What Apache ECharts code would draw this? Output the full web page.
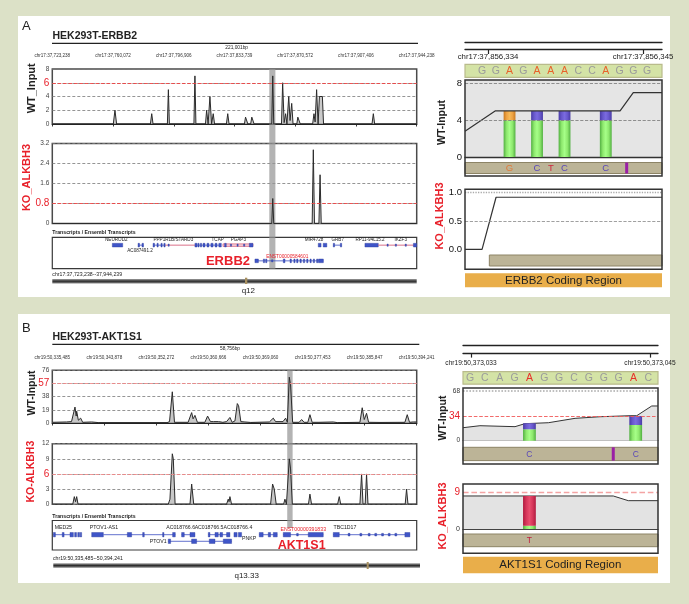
<!DOCTYPE html>
<html>
<head>
<meta charset="utf-8">
<title>HEK293T ERBB2 / AKT1S1</title>
<script src="https://cdn.jsdelivr.net/npm/echarts@6/dist/echarts.min.js"></script>
<style>
html,body{margin:0;padding:0;background:#dce1c7;width:689px;height:604px;overflow:hidden;}
#wrap{position:relative;width:689px;height:604px;}
.panel{position:absolute;background:#ffffff;}
#chart{position:absolute;left:0;top:0;width:689px;height:604px;}
</style>
</head>
<body>
<div id="wrap">
  <div class="panel" style="left:18px;top:16px;width:652px;height:281px;"></div>
  <div class="panel" style="left:18px;top:314px;width:652px;height:269px;"></div>
  <div id="chart"></div>
</div>
<script>
const FONT = '"Liberation Sans", Arial, Helvetica, sans-serif';
const RED = '#e8202a';

/* ================= Panel A : HEK293T-ERBB2 (x in kb from chr17:37,723,238) ================= */
const A_CHR = 'chr17';
const A_START = 37723238;
const A_SPAN_KB = 221.001;
const rulerA = [37723238, 37760072, 37796906, 37833739, 37870572, 37907406, 37944238];
const wtA_x = [0, 37.0, 38.0, 39.0, 59.5, 60.3, 61.1, 69.8, 70.4, 71.0, 85.9, 86.5, 87.1, 92.9, 93.6, 94.5, 95.6, 96.6, 97.6, 98.4, 105.6, 106.4, 107.2, 116.5, 117.2, 118.0, 118.6, 120.3, 121.0, 121.8, 122.4, 133.1, 133.7, 134.3, 139.0, 139.7, 140.6, 141.5, 142.3, 143.4, 144.2, 145.2, 146.0, 148.3, 148.9, 149.8, 150.4, 157.9, 158.7, 159.4, 160.3, 161.2, 162.0, 163.8, 164.5, 193.9, 194.7, 195.5, 221.001];
const wtA_y = [0, 0, 2, 0, 0, 1.5, 0, 0, 5, 0, 0, 7, 0, 0, 2, 0, 4, 0, 1.5, 0, 0, 1.5, 0, 0, 1, 1, 0, 0, 1, 1, 0, 0, 7, 0, 0, 6, 0.2, 1.5, 0, 4, 0.5, 3, 0, 0, 1, 1, 0, 0, 1.5, 0.3, 5, 0, 4, 4, 0, 0, 1.5, 0, 0];
const koA_x = [0, 133.1, 133.7, 134.3, 157.6, 158.3, 159.0, 161.7, 162.4, 163.1, 221.001];
const koA_y = [0, 0, 1.0, 0, 0, 2.95, 0, 0, 1.95, 0, 0];
const highlightA = [131.6, 135.3];
// transcripts: [start kb, end kb, row, kind]  kind 0 intron, 1 exon, 2 pink intron, 3 pink box, 4 small exon
const txA = [
  [36.4, 42.7, 0, 1],
  [52.0, 55.3, 0, 0], [52.0, 52.9, 0, 1], [54.4, 55.3, 0, 1],
  [61.1, 68.4, 0, 0], [68.4, 87.8, 0, 2],
  [61.1, 62.0, 0, 1], [63.5, 64.2, 0, 1], [65.9, 66.6, 0, 1], [67.7, 68.4, 0, 1], [70.2, 70.8, 0, 4], [86.5, 87.8, 0, 1],
  [87.8, 101.7, 0, 0], [88.3, 89.0, 0, 1], [89.8, 90.5, 0, 1], [91.4, 92.6, 0, 1], [93.8, 95.0, 0, 1], [96.2, 97.5, 0, 1], [98.7, 99.9, 0, 1], [101.0, 102.5, 0, 1],
  [103.5, 121.7, 0, 3], [104.5, 105.5, 0, 1], [108.0, 108.6, 0, 4], [112.0, 112.6, 0, 4], [116.0, 116.6, 0, 4], [119.5, 121.7, 0, 1],
  [161.3, 163.0, 0, 1], [164.3, 166.5, 0, 1],
  [170.4, 175.5, 0, 0], [170.4, 171.2, 0, 1], [174.7, 175.5, 0, 1],
  [189.6, 197.7, 0, 1],
  [197.7, 221.0, 0, 2], [203.0, 203.6, 0, 4], [208.0, 208.6, 0, 4], [214.0, 214.6, 0, 4], [219.0, 221.0, 0, 1],
  [122.9, 164.4, 1, 0], [122.9, 125.0, 1, 1], [128.0, 128.6, 1, 1], [129.4, 130.0, 1, 1], [133.0, 133.5, 1, 4], [140.1, 141.1, 1, 1],
  [144.2, 145.0, 1, 1], [146.5, 147.2, 1, 1], [148.2, 149.0, 1, 1], [150.2, 151.0, 1, 1], [152.3, 153.0, 1, 1], [154.3, 155.0, 1, 1],
  [156.3, 157.0, 1, 1], [158.3, 159.0, 1, 1], [160.3, 160.8, 1, 1], [161.4, 164.4, 1, 1]
];
// labels: [text, kb, row, style]
const txA_lab = [
  ['NEUROD2', 38.8, -0.32, 0], ['AC087491.2', 53.2, 0.38, 0], ['PPP1R1B/STARD3', 73.4, -0.32, 0],
  ['TCAP', 100.3, -0.32, 0], ['PGAP3', 112.8, -0.34, 0], ['MIR4728', 158.7, -0.32, 0], ['GRB7', 173.1, -0.32, 0],
  ['RP11-94L15.2', 192.7, -0.32, 0], ['IKZF3', 211.3, -0.32, 0],
  ['ENST00000584601', 142.5, 0.71, 1], ['ERBB2', 119.9, 1.03, 2]
];
// right panel A (x = letter index)
const seqA = ['G', 'G', 'A', 'G', 'A', 'A', 'A', 'C', 'C', 'A', 'G', 'G', 'G'];
const seqA_hl = [2, 4, 5, 6, 9];
const rulerRA = [37856334, 37856345];
const covA_x = [-1.24, 0.95, 10.04, 11.0, 13.09];
const covA_y = [2.8, 5, 5, 7, 7];
const barsA_x = [2, 4, 6, 9];
const barsA_mid = [4, 4, 4, 4];
const barsA_top = [5, 5, 5, 5];
const barsA_cap = ['orange', 'purple', 'purple', 'purple'];
const stripA_pos = [2, 4, 5, 6, 9];
const stripA_txt = ['G', 'C', 'T', 'C', 'C'];
const stripA_mark = [10.52];
const koRA_x = [-1.24, 0, 1.02, 13.09];
const koRA_y = [0, 0, 0.92, 0.92];
const koRA_span = [0.53, 13.09];

/* ================= Panel B : HEK293T-AKT1S1 (x in kb from chr19:50,335,485) ================= */
const B_CHR = 'chr19';
const B_START = 50335485;
const B_SPAN_KB = 58.756;
const rulerB = [50335485, 50343878, 50352272, 50360666, 50369060, 50377453, 50385847, 50394241];
const wtB_x = [0, 2.3, 3.1, 3.66, 3.85, 3.93, 4.2, 4.57, 4.9, 6.35, 7.5, 18.5, 18.9, 19.35, 19.7, 21.9, 22.47, 22.7, 23.0, 23.4, 24.6, 25.04, 25.5, 26.0, 26.8, 27.5, 28.1, 28.64, 29.0, 29.45, 29.83, 30.04, 30.4, 31.06, 32.0, 35.0, 35.63, 36.0, 37.2, 37.62, 37.9, 38.21, 38.42, 38.75, 39.8, 40.2, 40.6, 41.2, 41.54, 41.9, 43.0, 45.3, 46.0, 49.6, 49.97, 50.3, 50.67, 51.0, 53.0, 56.85, 57.23, 57.6, 58.19, 58.46, 58.756];
const wtB_y = [1, 1.5, 2, 23, 10, 17, 4, 7, 1, 1.5, 0.5, 0.5, 2, 45, 1, 1, 15, 6, 11, 1, 1, 10, 2, 2, 2, 1, 2, 8, 1, 3, 28, 25, 2, 1.5, 0.8, 1.5, 7, 2, 2, 7, 1, 66, 55, 1, 1, 5, 1, 1, 12, 1, 1, 1.5, 0.5, 1, 22, 5, 14, 1, 0.8, 1, 12, 1, 1.5, 3, 1.5];
const koB_x = [0, 3.3, 3.55, 3.75, 3.93, 4.15, 18.7, 18.97, 19.2, 19.35, 19.51, 19.8, 22.2, 22.47, 22.8, 28.1, 28.37, 28.5, 28.64, 28.9, 35.2, 35.52, 35.79, 36.1, 37.3, 37.51, 37.75, 37.95, 38.21, 38.42, 38.7, 41.3, 41.54, 41.8, 46.0, 46.27, 46.5, 49.6, 49.87, 50.1, 50.45, 50.67, 50.9, 56.9, 57.12, 57.35, 58.756];
const koB_y = [0, 0, 1.5, 0.5, 1.5, 0, 0, 1, 1, 10, 9, 0, 0, 4, 0, 0, 1, 0.5, 1.5, 0, 0, 4, 3, 0, 0, 1, 0, 0, 9, 7, 0, 0, 2, 0, 0, 1.5, 0, 0, 6, 0, 0, 6, 0, 0, 3, 0, 0];
const highlightB = [37.88, 38.75];
const txB = [
  [0.17, 2.85, 0, 0], [0.17, 0.5, 0, 1], [1.6, 1.9, 0, 1], [2.85, 3.4, 0, 1], [3.6, 3.9, 0, 1], [4.1, 4.4, 0, 1], [4.5, 4.73, 0, 1],
  [6.35, 8.23, 0, 1], [8.23, 19.83, 0, 0], [12.1, 12.79, 0, 1], [14.57, 14.83, 0, 1], [17.79, 18.0, 0, 1], [19.4, 19.83, 0, 1],
  [20.85, 23.0, 0, 0], [20.85, 21.28, 0, 1], [22.2, 23.0, 0, 1],
  [25.15, 28.64, 0, 0], [25.15, 25.42, 0, 1], [26.23, 26.76, 0, 1], [27.03, 27.46, 0, 1], [28.1, 28.64, 0, 1],
  [29.29, 29.8, 0, 1], [30.0, 30.52, 0, 1],
  [33.37, 36.27, 0, 0], [33.37, 34.0, 0, 1], [34.82, 35.2, 0, 1], [35.63, 36.27, 0, 1],
  [37.24, 43.69, 0, 0], [37.24, 38.42, 0, 1], [39.4, 39.66, 0, 4], [41.27, 43.69, 0, 1],
  [45.3, 57.66, 0, 0], [45.3, 46.27, 0, 1], [47.7, 48.0, 0, 4], [49.6, 49.9, 0, 4], [50.94, 51.24, 0, 4], [52.0, 52.3, 0, 4],
  [53.1, 53.4, 0, 4], [54.17, 54.47, 0, 4], [55.24, 55.54, 0, 4], [56.85, 57.66, 0, 1],
  [18.7, 28.91, 1, 0], [18.7, 19.08, 1, 1], [22.46, 23.27, 1, 1], [25.31, 26.23, 1, 1], [27.57, 28.91, 1, 1]
];
const txB_lab = [
  ['MED25', 1.78, -1.02, 6], ['PTOV1-AS1', 8.33, -1.02, 6], ['AC018766.6', 20.69, -1.02, 6],
  ['AC018766.5AC018766.4', 27.6, -1.02, 6], ['PNKP', 30.6, 0.6, 3], ['ENST00000391833', 40.46, -0.82, 7],
  ['TBC1D17', 47.18, -1.02, 6], ['PTOV1', 18.43, 1.1, 4], ['AKT1S1', 40.2, 1.71, 5]
];
const seqB = ['G', 'C', 'A', 'G', 'A', 'G', 'G', 'C', 'G', 'G', 'G', 'A', 'C'];
const seqB_hl = [4, 11];
const rulerRB = [50373033, 50373045];
const covB_x = [-0.47, 0.67, 3.03, 3.70, 5.27, 7.07, 8.75, 10.77, 11.22, 12.23, 12.65];
const covB_y = [17.8, 20.5, 19.2, 23.3, 24.6, 30.6, 32.8, 34.2, 34.2, 47.5, 47.5];
const barsB_x = [4, 11.15];
const barsB_mid = [15.6, 21.5];
const barsB_top = [23.8, 33.8];
const barsB_cap = ['purple', 'purple'];
const stripB_pos = [4, 11.15];
const stripB_txt = ['C', 'C'];
const stripB_mark = [9.64];
const koRB_x = [-0.47, 9.64, 10.65, 12.65];
const koRB_y = [8.1, 8.1, 6.95, 6.95];
const koRB_barx = [4];
const koRB_mid = [0.8];
const koRB_top = [8.1];
const koRB_cap = ['red'];
const koStripB_pos = [4];
const koStripB_txt = ['T'];

/* ================= building ================= */
const RA_IDX = [-1.24, 13.09];
const RB_IDX = [-0.47, 12.65];
const chart = echarts.init(document.getElementById('chart'));
const grids = [], xAxes = [], yAxes = [], series = [];
const addGrid = g => (grids.push(g), grids.length - 1);
const addX = a => (xAxes.push(a), xAxes.length - 1);
const addY = a => (yAxes.push(a), yAxes.length - 1);
const zip = (xs, ys) => xs.map((x, i) => [x, ys[i]]);
const FRAME = {show: true, borderColor: '#4a4a4a', borderWidth: 1.5, backgroundColor: 'transparent'};
const hidX = (gi, min, max) => addX({type: 'value', gridIndex: gi, show: false, min, max});
const hidY = (gi, min, max, inverse) => addY({type: 'value', gridIndex: gi, show: false, min, max, inverse: !!inverse});
const fmt = v => String(Math.round(v * 100) / 100);
const lg = cs => ({type: 'linear', x: 0, y: 0, x2: 1, y2: 0, colorStops: cs.map((c, i) => ({offset: i / (cs.length - 1), color: c}))});
const FILL = {
  green: lg(['#52b042', '#8ee86e', '#a6ff88', '#8ee86e', '#52b042']),
  orange: lg(['#c97a20', '#eda243', '#f6b957', '#eda243', '#c97a20']),
  purple: lg(['#4a3ca6', '#6858cc', '#7b6be0', '#6858cc', '#4a3ca6']),
  red: lg(['#b01c40', '#d6365a', '#e84e6e', '#d6365a', '#b01c40'])
};

function leftRuler(gi, chr, start, ticks, spanKb, offset) {
  const vals = ticks.map(t => (t - start) / 1000);
  return addX({type: 'value', gridIndex: gi, position: 'top', offset, min: 0, max: spanKb,
    axisLine: {show: true, lineStyle: {color: '#222', width: 1.2}},
    axisTick: {show: true, inside: true, length: 2.5, customValues: vals, lineStyle: {color: '#222', width: 0.9}},
    axisLabel: {show: true, inside: true, margin: 2.5, customValues: vals, fontSize: 4.6, color: '#333', fontFamily: FONT,
      formatter: v => chr + ':' + Math.round(start + v * 1000).toLocaleString('en-US')},
    splitLine: {show: false}});
}
function leftY(gi, max, interval, redVal) {
  return addY({type: 'value', gridIndex: gi, min: 0, max, interval,
    axisLine: {show: false}, axisTick: {show: false},
    splitLine: {show: true, lineStyle: {color: '#7a7a7a', type: [3, 2], width: 0.8}},
    axisLabel: {margin: 3, fontSize: 6.5, color: '#444', fontFamily: FONT,
      formatter: v => Math.abs(v - redVal) < 1e-6 ? '{r|' + fmt(v) + '}' : fmt(v),
      rich: {r: {color: RED, fontSize: 10, fontFamily: FONT}}}});
}
function rightY(gi, max, opts) {
  return addY(Object.assign({type: 'value', gridIndex: gi, min: 0, max,
    axisLine: {show: false}, axisTick: {show: false}, splitLine: {show: false}}, opts));
}
function rightRuler(gi, chr, ticks, min, max, fontSize, margin, offset2) {
  addX({type: 'value', gridIndex: gi, position: 'top', min, max,
    axisLine: {show: true, lineStyle: {color: '#222', width: 1.3}},
    axisTick: {show: true, inside: true, length: 4.3, customValues: ticks, lineStyle: {color: '#222', width: 1.2}},
    axisLabel: {show: true, inside: true, margin, customValues: ticks, fontSize, color: '#222', fontFamily: FONT,
      formatter: v => chr + ':' + Math.round(v).toLocaleString('en-US')},
    splitLine: {show: false}});
  addX({type: 'value', gridIndex: gi, position: 'top', offset: offset2, min, max,
    axisLine: {show: true, lineStyle: {color: '#222', width: 1.3}}, axisTick: {show: false}, axisLabel: {show: false}, splitLine: {show: false}});
  hidY(gi, 0, 1);
}
function lineSeries(xi, yi, xs, ys, extra) {
  series.push(Object.assign({type: 'line', xAxisIndex: xi, yAxisIndex: yi, silent: true, z: 4, data: zip(xs, ys),
    symbol: 'none', showSymbol: false, lineStyle: {color: '#2b2b2b', width: 1}}, extra || {}));
}
function refLines(xi, yi, x0, items) {
  series.push({type: 'line', xAxisIndex: xi, yAxisIndex: yi, silent: true, z: 1, data: [[x0, 0]], symbol: 'none',
    lineStyle: {width: 0, opacity: 0},
    markLine: {silent: true, symbol: 'none', label: {show: false},
      data: items.map(it => ({yAxis: it[0], lineStyle: {color: it[1], type: it[2], width: it[3]}}))}});
}
function textSeries(xi, yi, pts, texts, styleOf) {
  series.push({type: 'custom', xAxisIndex: xi, yAxisIndex: yi, silent: true, z: 5, data: pts,
    renderItem: (params, api) => {
      const p = api.coord([api.value(0), api.value(1)]);
      return {type: 'text', x: p[0], y: p[1], style: Object.assign({text: texts[params.dataIndex], fontFamily: FONT,
        align: 'center', verticalAlign: 'middle'}, styleOf(params.dataIndex))};
    }});
}
function barSeries(xi, yi, xs, mids, tops, caps) {
  const segs = [];
  xs.forEach((x, i) => { segs.push([x, 0, mids[i], 'green']); segs.push([x, mids[i], tops[i], caps[i]]); });
  series.push({type: 'custom', xAxisIndex: xi, yAxisIndex: yi, silent: true, z: 3,
    data: segs.map(s => [s[0], s[1], s[2]]),
    renderItem: (params, api) => {
      const s = segs[params.dataIndex];
      const p0 = api.coord([s[0], s[1]]), p1 = api.coord([s[0], s[2]]);
      const w = api.size([0.86, 0])[0];
      return {type: 'rect', shape: {x: p0[0] - w / 2, y: p1[1], width: w, height: p0[1] - p1[1]}, style: {fill: FILL[s[3]]}};
    }});
}
function markSeries(xi, yi, xs) {
  series.push({type: 'custom', xAxisIndex: xi, yAxisIndex: yi, silent: true, z: 5, data: xs.map(x => [x]),
    renderItem: (params, api) => {
      const t = api.coord([api.value(0), 1]), b = api.coord([api.value(0), 0]);
      return {type: 'rect', shape: {x: t[0] - 1.5, y: t[1], width: 3, height: b[1] - t[1]}, style: {fill: '#9a1fa6'}};
    }});
}
function spanSeries(xi, yi, spans) {
  series.push({type: 'custom', xAxisIndex: xi, yAxisIndex: yi, silent: true, z: 3, data: spans.map(s => [s[0], s[1]]),
    renderItem: (params, api) => {
      const a = api.coord([api.value(0), 1]), b = api.coord([api.value(1), 0]);
      return {type: 'rect', shape: {x: a[0], y: a[1], width: b[0] - a[0], height: b[1] - a[1]}, style: {fill: '#bcb497', stroke: '#8d8466', lineWidth: 1}};
    }});
}
function txSeries(xi, yi, segs, exonH) {
  series.push({type: 'custom', xAxisIndex: xi, yAxisIndex: yi, silent: true, z: 3, data: segs.map(s => [s[0], s[1], s[2]]),
    renderItem: (params, api) => {
      const s = segs[params.dataIndex];
      const p0 = api.coord([s[0], s[2]]), p1 = api.coord([s[1], s[2]]);
      const k = s[3];
      if (k === 0 || k === 2) {
        return {type: 'line', shape: {x1: p0[0], y1: p0[1], x2: p1[0], y2: p1[1]}, style: {stroke: k === 0 ? '#3a4cc0' : '#d04a6a', lineWidth: 0.8}};
      }
      if (k === 3) {
        return {type: 'rect', shape: {x: p0[0], y: p0[1] - exonH * 0.35, width: p1[0] - p0[0], height: exonH * 0.7}, style: {fill: '#f3c9d4', stroke: '#d04a6a', lineWidth: 0.6}};
      }
      const h = k === 4 ? exonH * 0.6 : exonH;
      return {type: 'rect', shape: {x: p0[0], y: p0[1] - h / 2, width: Math.max(p1[0] - p0[0], 1.2), height: h}, style: {fill: '#3f55c8', stroke: '#2a3a9a', lineWidth: 0.4}};
    }});
}
const LAB_STYLE = [
  {fontSize: 4.6, fill: '#222'},
  {fontSize: 4.8, fill: RED},
  {fontSize: 13, fill: RED, fontWeight: 'bold', align: 'right'},
  {fontSize: 5.2, fill: '#222', align: 'left'},
  {fontSize: 5.2, fill: '#222', align: 'right'},
  {fontSize: 12.5, fill: RED, fontWeight: 'bold'},
  {fontSize: 5.2, fill: '#222'},
  {fontSize: 5.2, fill: RED}
];
function txLabels(xi, yi, labs) {
  textSeries(xi, yi, labs.map(l => [l[1], l[2]]), labs.map(l => l[0]), i => LAB_STYLE[labs[i][3]]);
}

/* ---- Panel A left ---- */
const gA_wt = addGrid(Object.assign({left: 52.3, top: 69, width: 364.4, height: 55}, FRAME));
const xA_wt = leftRuler(gA_wt, A_CHR, A_START, rulerA, A_SPAN_KB, 18.3);
const yA_wt = leftY(gA_wt, 8, 2, 6);
refLines(xA_wt, yA_wt, 0, [[6, '#ee4444', 'dashed', 0.9]]);
lineSeries(xA_wt, yA_wt, wtA_x, wtA_y, {areaStyle: {color: '#b3b3b3'}});

const gA_ko = addGrid(Object.assign({left: 52.3, top: 143.5, width: 364.4, height: 80}, FRAME));
const xA_ko = hidX(gA_ko, 0, A_SPAN_KB);
const yA_ko = leftY(gA_ko, 3.2, 0.8, 0.8);
refLines(xA_ko, yA_ko, 0, [[0.8, '#ee4444', 'dashed', 0.9]]);
lineSeries(xA_ko, yA_ko, koA_x, koA_y, {areaStyle: {color: '#b3b3b3'}});

const gA_tx = addGrid({left: 52.3, top: 237.3, width: 364.4, height: 31.4, show: true, borderColor: '#3a3a3a', borderWidth: 1.2, backgroundColor: 'transparent'});
const xA_tx = hidX(gA_tx, 0, A_SPAN_KB);
const yA_tx = hidY(gA_tx, -0.5, 1.5, true);
txSeries(xA_tx, yA_tx, txA, 3.7);
txLabels(xA_tx, yA_tx, txA_lab);

/* ---- Panel A right ---- */
const gA_rr = addGrid({left: 465, top: 45.7, width: 197, height: 4});
rightRuler(gA_rr, A_CHR, rulerRA, 37856332.368, 37856346.348, 7.8, 7.1, 3.4);

const gA_seq = addGrid({left: 465, top: 64.3, width: 197, height: 13, show: true, backgroundColor: '#d4e3a6', borderColor: '#b9bb8c', borderWidth: 1.2});
const xA_seq = hidX(gA_seq, RA_IDX[0], RA_IDX[1]);
const yA_seq = hidY(gA_seq, 0, 1);
textSeries(xA_seq, yA_seq, seqA.map((c, i) => [i, 0.45]), seqA, i => ({fontSize: 10.5, fill: seqA_hl.includes(i) ? '#e8622a' : '#9b9b9b'}));

const gA_cov = addGrid({left: 465, top: 80, width: 197, height: 77, show: true, backgroundColor: '#e5e5e5', borderWidth: 0});
const xA_cov = addX({type: 'value', gridIndex: gA_cov, min: RA_IDX[0], max: RA_IDX[1], axisLine: {show: true, lineStyle: {color: '#333', width: 1.3}}, axisTick: {show: false}, axisLabel: {show: false}, splitLine: {show: false}});
const yA_cov = rightY(gA_cov, 8.36, {axisLabel: {customValues: [0, 4, 8], fontSize: 9.5, color: '#111', margin: 3, fontFamily: FONT}});
refLines(xA_cov, yA_cov, RA_IDX[0], [[4, '#777', 'dashed', 0.8], [8, '#777', 'dashed', 0.8]]);
barSeries(xA_cov, yA_cov, barsA_x, barsA_mid, barsA_top, barsA_cap);
lineSeries(xA_cov, yA_cov, covA_x, covA_y, {lineStyle: {color: '#333', width: 1.2}});

const gA_strip = addGrid({left: 465, top: 162.5, width: 197, height: 11, show: true, backgroundColor: '#bcb497', borderColor: '#8d8466', borderWidth: 1});
const xA_strip = hidX(gA_strip, RA_IDX[0], RA_IDX[1]);
const yA_strip = hidY(gA_strip, 0, 1);
const STRIP_COL = {G: '#e07a3a', C: '#5a48b8', T: '#d02840', A: '#2a9a2a'};
textSeries(xA_strip, yA_strip, stripA_pos.map(p => [p, 0.45]), stripA_txt, i => ({fontSize: 9.5, fill: STRIP_COL[stripA_txt[i]]}));
markSeries(xA_strip, yA_strip, stripA_mark);

const gA_rko = addGrid({left: 465, top: 192.7, width: 197, height: 56.6});
const xA_rko = hidX(gA_rko, RA_IDX[0], RA_IDX[1]);
const yA_rko = rightY(gA_rko, 1, {interval: 0.5, axisLabel: {formatter: v => v.toFixed(1), fontSize: 9.5, color: '#111', margin: 3, fontFamily: FONT}});
refLines(xA_rko, yA_rko, RA_IDX[0], [[0.5, '#888', 'dashed', 0.8], [1, '#aaa', 'dotted', 1.3]]);
lineSeries(xA_rko, yA_rko, koRA_x, koRA_y, {lineStyle: {color: '#333', width: 1.2}});

const gA_rks = addGrid({left: 465, top: 255, width: 197, height: 11});
const xA_rks = hidX(gA_rks, RA_IDX[0], RA_IDX[1]);
const yA_rks = hidY(gA_rks, 0, 1);
spanSeries(xA_rks, yA_rks, [koRA_span]);

/* ---- Panel B left ---- */
const gB_wt = addGrid(Object.assign({left: 52.3, top: 370.3, width: 364.4, height: 52.7}, FRAME));
const xB_wt = leftRuler(gB_wt, B_CHR, B_START, rulerB, B_SPAN_KB, 17.6);
const yB_wt = leftY(gB_wt, 76, 19, 57);
refLines(xB_wt, yB_wt, 0, [[57, '#f08a8a', 'dashed', 0.9]]);
lineSeries(xB_wt, yB_wt, wtB_x, wtB_y, {areaStyle: {color: '#b0b0b0'}});

const gB_ko = addGrid(Object.assign({left: 52.3, top: 443.7, width: 364.4, height: 60.5}, FRAME));
const xB_ko = hidX(gB_ko, 0, B_SPAN_KB);
const yB_ko = leftY(gB_ko, 12, 3, 6);
refLines(xB_ko, yB_ko, 0, [[6, '#f08a8a', 'dashed', 0.9]]);
lineSeries(xB_ko, yB_ko, koB_x, koB_y, {areaStyle: {color: '#b0b0b0'}});

const gB_tx = addGrid({left: 52.3, top: 520.5, width: 364.4, height: 29.5, show: true, borderColor: '#3a3a3a', borderWidth: 1.2, backgroundColor: 'transparent'});
const xB_tx = hidX(gB_tx, 0, B_SPAN_KB);
const yB_tx = hidY(gB_tx, -2.15, 2.32, true);
txSeries(xB_tx, yB_tx, txB, 4.4);
txLabels(xB_tx, yB_tx, txB_lab);

/* ---- Panel B right ---- */
const gB_rr = addGrid({left: 463, top: 349.3, width: 195, height: 4});
rightRuler(gB_rr, B_CHR, rulerRB, 50373032.464, 50373045.536, 6.6, 10.1, 4.3);

const gB_seq = addGrid({left: 463, top: 371.7, width: 195, height: 12.5, show: true, backgroundColor: '#d4e3a6', borderColor: '#b9bb8c', borderWidth: 1.2});
const xB_seq = hidX(gB_seq, RB_IDX[0], RB_IDX[1]);
const yB_seq = hidY(gB_seq, 0, 1);
textSeries(xB_seq, yB_seq, seqB.map((c, i) => [i, 0.45]), seqB, i => ({fontSize: 10.5, fill: seqB_hl.includes(i) ? '#e8302a' : '#9b9b9b'}));

const gB_cov = addGrid({left: 463, top: 391, width: 195, height: 49.7});
const xB_cov = addX({type: 'value', gridIndex: gB_cov, min: RB_IDX[0], max: RB_IDX[1], axisLine: {show: true, lineStyle: {color: '#555', width: 1}}, axisTick: {show: false}, axisLabel: {show: false}, splitLine: {show: false}});
const yB_cov = rightY(gB_cov, 68, {interval: 34, axisLabel: {fontSize: 6.5, color: '#333', margin: 3, fontFamily: FONT,
  formatter: v => v === 34 ? '{r|34}' : String(v), rich: {r: {color: RED, fontSize: 10, fontFamily: FONT}}}});
lineSeries(xB_cov, yB_cov, covB_x, covB_y, {z: 2, lineStyle: {color: '#333', width: 1}, areaStyle: {color: '#e3e3e3', opacity: 1}});
refLines(xB_cov, yB_cov, RB_IDX[0], [[34, '#f05a5a', 'dashed', 0.9], [68, '#aaaaaa', 'dotted', 1.6]]);
barSeries(xB_cov, yB_cov, barsB_x, barsB_mid, barsB_top, barsB_cap);

const gB_strip = addGrid({left: 463, top: 447.3, width: 195, height: 13.3, show: true, backgroundColor: '#bcb497', borderColor: '#8d8466', borderWidth: 1});
const xB_strip = hidX(gB_strip, RB_IDX[0], RB_IDX[1]);
const yB_strip = hidY(gB_strip, 0, 1);
textSeries(xB_strip, yB_strip, stripB_pos.map(p => [p, 0.45]), stripB_txt, i => ({fontSize: 8.5, fill: STRIP_COL[stripB_txt[i]]}));
markSeries(xB_strip, yB_strip, stripB_mark);

const gB_rko = addGrid({left: 463, top: 492.3, width: 195, height: 36.7});
const xB_rko = addX({type: 'value', gridIndex: gB_rko, min: RB_IDX[0], max: RB_IDX[1], axisLine: {show: true, lineStyle: {color: '#444', width: 1.2}}, axisTick: {show: false}, axisLabel: {show: false}, splitLine: {show: false}});
const yB_rko = rightY(gB_rko, 9, {interval: 9, axisLabel: {fontSize: 7, color: '#333', margin: 3, fontFamily: FONT,
  formatter: v => v === 9 ? '{r|9}' : String(v), rich: {r: {color: RED, fontSize: 10, fontFamily: FONT}}}});
lineSeries(xB_rko, yB_rko, koRB_x, koRB_y, {z: 2, lineStyle: {color: '#333', width: 1}, areaStyle: {color: '#e3e3e3', opacity: 1}});
refLines(xB_rko, yB_rko, RB_IDX[0], [[9, '#f4a4a4', 'dashed', 1.4]]);
barSeries(xB_rko, yB_rko, koRB_barx, koRB_mid, koRB_top, koRB_cap);

const gB_rks = addGrid({left: 463, top: 534, width: 195, height: 12.7, show: true, backgroundColor: '#bcb497', borderColor: '#8d8466', borderWidth: 1});
const xB_rks = hidX(gB_rks, RB_IDX[0], RB_IDX[1]);
const yB_rks = hidY(gB_rks, 0, 1);
textSeries(xB_rks, yB_rks, koStripB_pos.map(p => [p, 0.45]), koStripB_txt, i => ({fontSize: 8.5, fill: '#c02040'}));

chart.setOption({
  animation: false,
  backgroundColor: 'transparent',
  textStyle: {fontFamily: FONT},
  tooltip: {show: false},
  grid: grids, xAxis: xAxes, yAxis: yAxes, series: series
});

/* ---- decorations ---- */
const gfx = [];
const PI2 = Math.PI / 2;
const T = (text, x, y, o = {}) => gfx.push({type: 'text', x, y, z: 10, rotation: o.rot || 0, silent: true,
  style: {text, fill: o.color || '#222', fontSize: o.size || 10, fontWeight: o.bold ? 'bold' : 'normal', fontFamily: FONT,
    align: o.align || 'left', textAlign: o.align || 'left', verticalAlign: 'middle', textVerticalAlign: 'middle'}});
const L = (x1, y1, x2, y2, w, c) => gfx.push({type: 'line', z: 10, silent: true, shape: {x1, y1, x2, y2}, style: {stroke: c || '#222', lineWidth: w || 1}});
const R = (x, y, w, h, fill, stroke, lw, z) => gfx.push({type: 'rect', z: z == null ? 10 : z, silent: true, shape: {x, y, width: w, height: h}, style: {fill: fill || null, stroke: stroke || null, lineWidth: lw || 1}});
const IDEO = {type: 'linear', x: 0, y: 0, x2: 0, y2: 1, colorStops: [{offset: 0, color: '#a0a0a0'}, {offset: 0.5, color: '#2e2e2e'}, {offset: 1, color: '#8a8a8a'}]};

// Panel A
T('A', 22, 26.5, {size: 13});
T('HEK293T-ERBB2', 52.5, 36.5, {size: 10.5, bold: true});
L(52, 43.3, 418, 43.3, 1.3);
T('221,001bp', 236.7, 47.2, {size: 4.8, align: 'center'});
T('WT_Input', 31.5, 88.3, {size: 11, bold: true, rot: PI2, align: 'center'});
T('KO_ALKBH3', 27.3, 177.5, {size: 11, bold: true, rot: PI2, align: 'center', color: RED});
T('Transcripts / Ensembl Transcripts', 52.3, 232.3, {size: 5.2, bold: true});
T(A_CHR + ':37,723,238--37,944,239', 52.3, 275, {size: 5.2});
R(52.3, 279, 364.4, 4.5, IDEO, null, 0);
R(245, 277.7, 2.3, 6.3, '#a89060', null, 0);
T('q12', 248.3, 290.3, {size: 8, align: 'center'});
T('WT-Input', 442, 122.5, {size: 10.5, bold: true, rot: PI2, align: 'center'});
T('KO_ALKBH3', 440, 216, {size: 11, bold: true, rot: PI2, align: 'center', color: RED});
R(465, 80, 197, 96, null, '#333', 1.5);
R(465, 189.3, 197, 80, null, '#333', 1.5);
R(465, 273.3, 197, 14, '#e9ae4a', null, 0);
T('ERBB2 Coding Region', 563.5, 280.5, {size: 11.5, align: 'center'});

// Panel B
T('B', 22, 328, {size: 13});
T('HEK293T-AKT1S1', 52.5, 336.7, {size: 10.5, bold: true});
L(52.3, 344.3, 419.3, 344.3, 1.3);
T('58,756bp', 230, 349, {size: 4.8, align: 'center'});
T('WT-Input', 32, 393, {size: 10.5, bold: true, rot: PI2, align: 'center'});
T('KO-ALKBH3', 30.8, 471.7, {size: 10.5, bold: true, rot: PI2, align: 'center', color: RED});
T('Transcripts / Ensembl Transcripts', 52.3, 516.7, {size: 5.2, bold: true});
T(B_CHR + ':50,335,485--50,394,241', 53, 558.3, {size: 5.2});
R(53.3, 563.3, 366.7, 4.4, IDEO, null, 0);
R(366.7, 562, 2, 7, '#a89060', null, 0);
T('q13.33', 246.7, 575.3, {size: 8, align: 'center'});
T('WT-Input', 443, 418, {size: 10.5, bold: true, rot: PI2, align: 'center'});
T('KO_ALKBH3', 443, 516, {size: 11, bold: true, rot: PI2, align: 'center', color: RED});
R(463, 388, 195, 76, null, '#333', 1.5);
R(463, 484, 195, 69.3, null, '#333', 1.5);
R(463, 556.7, 195, 16.6, '#e9ae4a', null, 0);
T('AKT1S1 Coding Region', 560.3, 565, {size: 11.5, align: 'center'});

// highlight bands through the tracks (from the highlight ranges via the axes)
const px = (gi, x, y) => chart.convertToPixel({gridIndex: gi}, [x, y]);
const a0 = px(gA_wt, highlightA[0], 8), a1 = px(gA_wt, highlightA[1], 8), aB = px(gA_tx, highlightA[0], 1.5);
R(a0[0], a0[1], a1[0] - a0[0], aB[1] - a0[1], 'rgba(150,150,150,0.72)', null, 0, 1);
const b0 = px(gB_wt, highlightB[0], 76), b1 = px(gB_wt, highlightB[1], 76), bB = px(gB_tx, highlightB[0], -1.0);
R(b0[0], b0[1], b1[0] - b0[0], bB[1] - b0[1], 'rgba(150,150,150,0.72)', null, 0, 1);

chart.setOption({graphic: {elements: gfx}});
</script>
</body>
</html>
